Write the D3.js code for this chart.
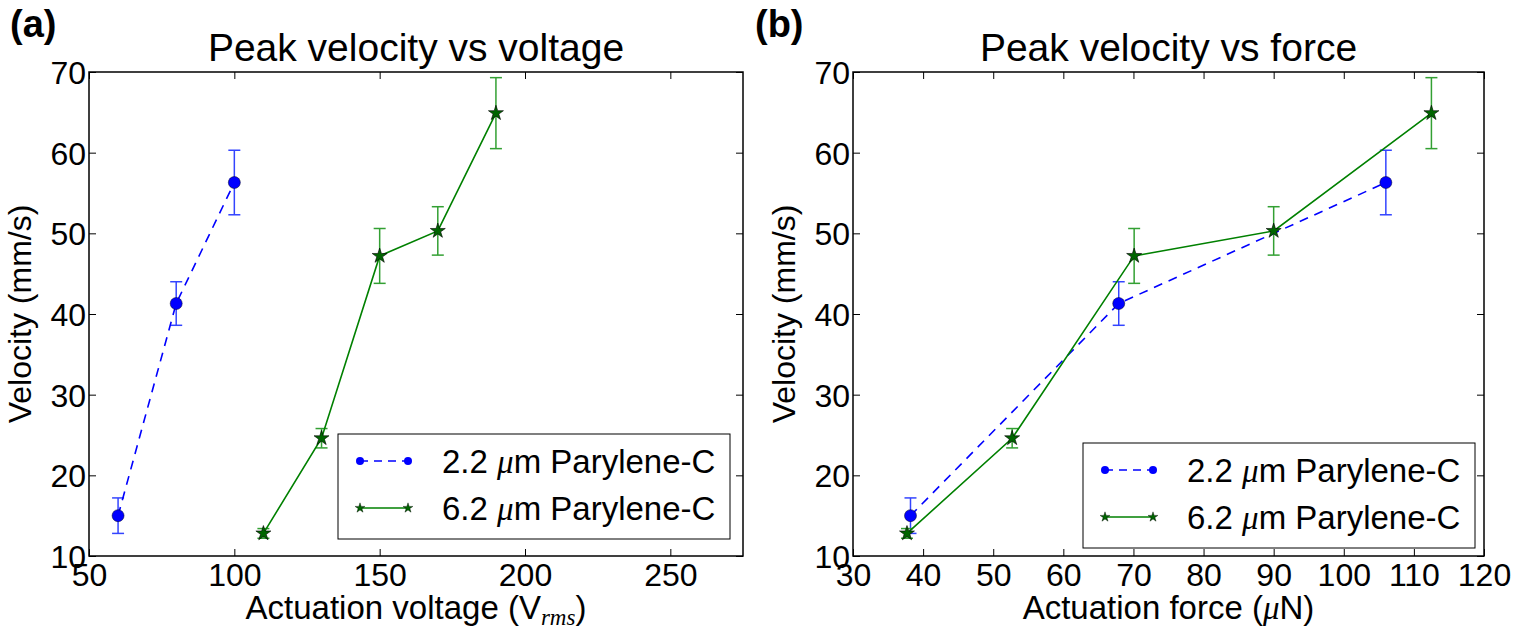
<!DOCTYPE html>
<html>
<head>
<meta charset="utf-8">
<script src="https://cdn.jsdelivr.net/npm/d3@7"></script>
<style>
  body { margin: 0; background: #fff; }
  text { font-family: "Liberation Sans", Arial, sans-serif; fill: #000; }
</style>
</head>
<body>
<div id="chart"></div>
<script>
// data
let voltageThin = [60, 80, 100];
let voltageThick = [110, 130, 150, 170, 190];
let forceThin = [38.2, 67.9, 106.0];
let forceThick = [37.7, 52.7, 70.1, 90.0, 112.5];
let velThin = [15.0, 41.3, 56.3];
let errThin = [2.2, 2.7, 4.0];
let velThick = [12.8, 24.6, 47.2, 50.3, 64.9];
let errThick = [0.6, 1.2, 3.4, 3.0, 4.4];
let yTicks = [10, 20, 30, 40, 50, 60, 70];
let xTicksVoltage = [50, 100, 150, 200, 250];
let xTicksForce = [30, 40, 50, 60, 70, 80, 90, 100, 110, 120];
let seriesNames = ["2.2 \u03bcm Parylene-C", "6.2 \u03bcm Parylene-C"];

const width = 1522, height = 629;
const svg = d3.select("#chart").append("svg")
    .attr("width", width)
    .attr("height", height);

const blue = "#0000ff", green = "#008000";
const star = d3.symbol().type(d3.symbolStar);

function drawPanel(opt) {
    let g = svg.append("g");
    let x = d3.scaleLinear().domain(opt.xDomain).range([opt.left, opt.right]);
    let y = d3.scaleLinear().domain([10, 70]).range([opt.bottom, opt.top]);

    // ticks on all four sides, pointing in
    g.append("g").attr("transform", `translate(0,${opt.bottom})`)
        .call(d3.axisBottom(x).tickValues(opt.xTicks).tickSize(-7).tickPadding(9))
        .call(a => a.selectAll("text").attr("font-size", 32).attr("dy", "0.66em"));
    g.append("g").attr("transform", `translate(0,${opt.top})`)
        .call(d3.axisTop(x).tickValues(opt.xTicks).tickSize(-7).tickFormat(""));
    g.append("g").attr("transform", `translate(${opt.left},0)`)
        .call(d3.axisLeft(y).tickValues(yTicks).tickSize(-7).tickPadding(3))
        .call(a => a.selectAll("text").attr("font-size", 32).attr("dy", "0.36em"));
    g.append("g").attr("transform", `translate(${opt.right},0)`)
        .call(d3.axisRight(y).tickValues(yTicks).tickSize(-7).tickFormat(""));
    g.selectAll(".domain").remove();
    g.selectAll(".tick line").attr("stroke", "#000").attr("stroke-width", 1);
    g.selectAll(".tick text").attr("font-family", "Liberation Sans, Arial, sans-serif");

    g.append("rect")
        .attr("x", opt.left).attr("y", opt.top)
        .attr("width", opt.right - opt.left).attr("height", opt.bottom - opt.top)
        .attr("fill", "none").attr("stroke", "#000").attr("stroke-width", 1.5);

    let thin = opt.xThin.map((v, i) => ({x: v, y: velThin[i], e: errThin[i]}));
    let thick = opt.xThick.map((v, i) => ({x: v, y: velThick[i], e: errThick[i]}));
    let line = d3.line().x(d => x(d.x)).y(d => y(d.y));

    // error bars
    function errBars(data, color) {
        let eg = g.append("g").attr("stroke", color).attr("stroke-width", 1.5);
        eg.selectAll("line.v").data(data).enter().append("line")
            .attr("x1", d => x(d.x)).attr("x2", d => x(d.x))
            .attr("y1", d => y(d.y - d.e)).attr("y2", d => y(d.y + d.e));
        eg.selectAll("line.t").data(data).enter().append("line")
            .attr("x1", d => x(d.x) - 6).attr("x2", d => x(d.x) + 6)
            .attr("y1", d => y(d.y + d.e)).attr("y2", d => y(d.y + d.e));
        eg.selectAll("line.b").data(data).enter().append("line")
            .attr("x1", d => x(d.x) - 6).attr("x2", d => x(d.x) + 6)
            .attr("y1", d => y(d.y - d.e)).attr("y2", d => y(d.y - d.e));
    }
    errBars(thin, "#3344ff");
    errBars(thick, "#33a033");

    g.append("path").datum(thin).attr("d", line)
        .attr("fill", "none").attr("stroke", blue).attr("stroke-width", 1.6)
        .attr("stroke-dasharray", "9,7");
    g.append("path").datum(thick).attr("d", line)
        .attr("fill", "none").attr("stroke", green).attr("stroke-width", 1.6);

    g.selectAll(".dot").data(thin).enter().append("circle")
        .attr("cx", d => x(d.x)).attr("cy", d => y(d.y)).attr("r", 6)
        .attr("fill", blue).attr("stroke", "#000020").attr("stroke-width", 0.5);
    g.selectAll(".star").data(thick).enter().append("path")
        .attr("d", star.size(70)())
        .attr("transform", d => `translate(${x(d.x)},${y(d.y)})`)
        .attr("fill", "#006400").attr("stroke", "#000").attr("stroke-width", 0.6);

    // legend
    let lg = g.append("g").attr("transform", `translate(${opt.legX},${opt.legY})`);
    lg.append("rect").attr("width", 392).attr("height", 105)
        .attr("fill", "#fff").attr("stroke", "#000").attr("stroke-width", 1);
    [0, 1].forEach(i => {
        let yy = 27 + i * 47;
        let c = i === 0 ? blue : green;
        lg.append("line").attr("x1", 22).attr("x2", 70).attr("y1", yy).attr("y2", yy)
            .attr("stroke", c).attr("stroke-width", 1.6)
            .attr("stroke-dasharray", i === 0 ? "8,6" : null);
        [22, 70].forEach(px => {
            if (i === 0) {
                lg.append("circle").attr("cx", px).attr("cy", yy).attr("r", 4).attr("fill", blue);
            } else {
                lg.append("path").attr("d", d3.symbol().type(d3.symbolStar).size(30)())
                    .attr("transform", `translate(${px},${yy})`)
                    .attr("fill", "#006400").attr("stroke", "#000").attr("stroke-width", 0.4);
            }
        });
        let parts = seriesNames[i].split("\u03bc");
        let t = lg.append("text").attr("x", 104).attr("y", yy).attr("dy", "0.36em")
            .attr("font-size", 33);
        t.append("tspan").text(parts[0]);
        t.append("tspan").text("\u03bc").attr("font-style", "italic")
            .style("font-family", "Liberation Serif, serif");
        t.append("tspan").text(parts[1]);
    });

    // titles and labels
    let cx = (opt.left + opt.right) / 2;
    svg.append("text").attr("x", cx).attr("y", 61).attr("text-anchor", "middle")
        .attr("font-size", 39).text(opt.title);
    svg.append("text").attr("x", opt.tagX).attr("y", 37)
        .attr("font-size", 38).attr("font-weight", "bold").text(opt.tag);
    svg.append("text")
        .attr("transform", `translate(${opt.left - 58},${(opt.top + opt.bottom) / 2}) rotate(-90)`)
        .attr("text-anchor", "middle").attr("font-size", 32).text("Velocity (mm/s)");
    let xl = svg.append("text").attr("x", cx).attr("y", 619).attr("text-anchor", "middle")
        .attr("font-size", 33);
    opt.xLabel(xl);
}

drawPanel({
    left: 89, right: 743, top: 72, bottom: 556,
    xDomain: [50, 275], xTicks: xTicksVoltage,
    xThin: voltageThin, xThick: voltageThick,
    legX: 338, legY: 434,
    title: "Peak velocity vs voltage", tag: "(a)", tagX: 10,
    xLabel: t => {
        t.append("tspan").text("Actuation voltage (V");
        t.append("tspan").text("rms").attr("font-style", "italic").attr("font-size", 23)
            .attr("dy", 6).style("font-family", "Liberation Serif, serif");
        t.append("tspan").text(")").attr("dy", -6);
    }
});

drawPanel({
    left: 853, right: 1484, top: 72, bottom: 556,
    xDomain: [30, 120], xTicks: xTicksForce,
    xThin: forceThin, xThick: forceThick,
    legX: 1083, legY: 443,
    title: "Peak velocity vs force", tag: "(b)", tagX: 755,
    xLabel: t => {
        t.append("tspan").text("Actuation force (");
        t.append("tspan").text("\u03bc").attr("font-style", "italic")
            .style("font-family", "Liberation Serif, serif");
        t.append("tspan").text("N)");
    }
});
</script>
</body>
</html>
